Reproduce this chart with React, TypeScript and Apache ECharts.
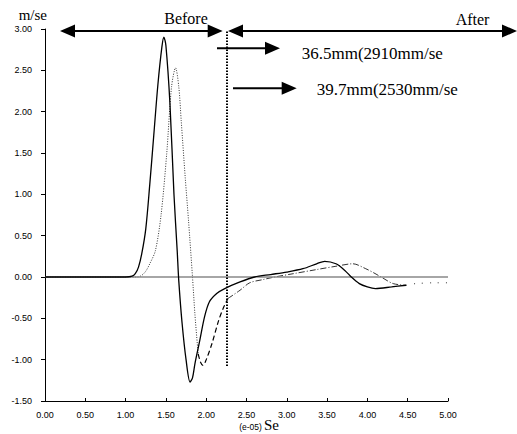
import React, { useEffect, useRef } from "react";
import * as echarts from "echarts";

// Solid curve (36.5mm)
const solidX = [0, 0.5, 1.0, 1.08, 1.12, 1.16, 1.2, 1.25, 1.3, 1.35, 1.4, 1.45, 1.475, 1.5, 1.55, 1.6, 1.64, 1.66, 1.7, 1.75, 1.8, 1.83, 1.86, 1.92, 1.98, 2.04, 2.13, 2.23, 2.42, 2.6, 2.8, 3.0, 3.2, 3.37, 3.47, 3.61, 3.72, 3.8, 3.9, 4.0, 4.1, 4.3, 4.48];
const solidY = [0, 0, 0, 0.01, 0.04, 0.12, 0.28, 0.58, 1.12, 1.72, 2.32, 2.78, 2.9, 2.8, 2.1, 1.0, 0.32, -0.05, -0.55, -1.0, -1.27, -1.22, -1.05, -0.77, -0.48, -0.3, -0.2, -0.14, -0.06, 0.0, 0.03, 0.06, 0.1, 0.16, 0.19, 0.16, 0.08, 0.0, -0.08, -0.12, -0.14, -0.12, -0.1];

// Second curve (39.7mm), drawn in four line styles
const dotX = [0, 0.5, 1.0, 1.15, 1.2, 1.25, 1.3, 1.37, 1.44, 1.51, 1.57, 1.62, 1.66, 1.69, 1.74, 1.78, 1.83, 1.86, 1.9];
const dotY = [0, 0, 0, 0, 0.02, 0.07, 0.16, 0.32, 0.75, 1.49, 2.3, 2.53, 2.3, 1.89, 1.2, 0.69, 0.0, -0.45, -0.93];
const dashX = [1.9, 1.93, 1.96, 2.0, 2.07, 2.15, 2.21, 2.27];
const dashY = [-0.93, -1.03, -1.07, -1.0, -0.81, -0.54, -0.38, -0.26];
const dashDotX = [2.27, 2.42, 2.54, 2.71, 2.85, 3.08, 3.37, 3.61, 3.82, 3.98, 4.08, 4.17, 4.32, 4.48];
const dashDotY = [-0.26, -0.16, -0.07, -0.03, 0.0, 0.04, 0.09, 0.13, 0.16, 0.1, 0.05, 0.0, -0.08, -0.1];
const sparseX = [4.48, 4.6, 4.85, 5.1];
const sparseY = [-0.1, -0.08, -0.07, -0.07];

const boundaryX = 2.25;
const boundaryTop = 2.97;
const boundaryBottom = -1.08;

const topLabels = ["Before", "After"];
const noteLabels = ["36.5mm(2910mm/se", "39.7mm(2530mm/se"];
const yUnit = "m/se";
const xUnit = "Se";
const xExp = "(e-05)";

const zip = (xs: number[], ys: number[]) => xs.map((x, i) => [x, ys[i]]);

const SERIF = "'Liberation Serif', 'Times New Roman', serif";
const SANS = "'Liberation Sans', Arial, sans-serif";

function head(tipX: number, y: number, dir: number) {
  return {
    type: "polygon",
    shape: { points: [[tipX, y], [tipX - dir * 15, y - 6.5], [tipX - dir * 15, y + 6.5]] },
    style: { fill: "#000" },
    silent: true,
  };
}
function seg(x1: number, x2: number, y: number) {
  return { type: "line", shape: { x1, y1: y, x2, y2: y }, style: { stroke: "#000", lineWidth: 2 }, silent: true };
}
function txt(text: string, x: number, y: number, font: string, align: string) {
  return {
    type: "text",
    x,
    y,
    silent: true,
    style: { text, font, fill: "#000", textAlign: align, textVerticalAlign: "middle", align, verticalAlign: "middle" },
  };
}

export default function App() {
  const ref = useRef<HTMLDivElement>(null);
  useEffect(() => {
    if (!ref.current) return;
    const chart = echarts.init(ref.current, undefined, { renderer: "svg" });
    const fmt = (v: number) => v.toFixed(2);
    chart.setOption({
      animation: false,
      backgroundColor: "#fff",
      grid: { left: 45, right: 69, top: 29, bottom: 33, containLabel: false },
      xAxis: {
        type: "value",
        min: 0,
        max: 5,
        interval: 0.5,
        axisLine: { onZero: false, lineStyle: { color: "#000", width: 1 } },
        axisTick: { inside: true, length: 3, lineStyle: { color: "#000" } },
        axisLabel: { formatter: fmt, fontFamily: SANS, fontSize: 9, color: "#000", margin: 9 },
        splitLine: { show: false },
      },
      yAxis: {
        type: "value",
        min: -1.5,
        max: 3,
        interval: 0.5,
        axisLine: { show: true, onZero: false, lineStyle: { color: "#000", width: 1 } },
        axisTick: { show: true, inside: false, length: 4, lineStyle: { color: "#000" } },
        axisLabel: { formatter: fmt, fontFamily: SANS, fontSize: 9, color: "#000", margin: 13 },
        splitLine: { show: false },
      },
      series: [
        {
          type: "line",
          data: zip(solidX, solidY),
          smooth: 0.3,
          showSymbol: false,
          lineStyle: { color: "#000", width: 1.3 },
          z: 5,
          markLine: {
            silent: true,
            symbol: "none",
            label: { show: false },
            data: [
              { yAxis: 0, lineStyle: { color: "#888", width: 1.5, type: "solid" } },
              [
                { coord: [boundaryX, boundaryTop], lineStyle: { color: "#000", width: 2, type: [1.5, 1.5] } },
                { coord: [boundaryX, boundaryBottom] },
              ],
            ],
          },
        },
        {
          type: "line",
          data: zip(dotX, dotY),
          smooth: 0.3,
          showSymbol: false,
          lineStyle: { color: "#333", width: 1, type: [1, 1.5] },
        },
        {
          type: "line",
          data: zip(dashX, dashY),
          smooth: 0.3,
          showSymbol: false,
          lineStyle: { color: "#000", width: 1.2, type: [5, 3] },
        },
        {
          type: "line",
          data: zip(dashDotX, dashDotY),
          smooth: 0.3,
          showSymbol: false,
          lineStyle: { color: "#333", width: 1, type: [6, 2, 1, 2] },
        },
        {
          type: "line",
          data: zip(sparseX, sparseY),
          smooth: 0.3,
          showSymbol: false,
          clip: false,
          lineStyle: { color: "#333", width: 1, type: [1, 7] },
        },
      ],
      graphic: [
        seg(70, 212, 31),
        head(60, 31, -1),
        head(222.7, 31, 1),
        seg(238, 507, 31),
        head(228, 31, -1),
        head(517, 31, 1),
        seg(217, 270, 48.3),
        head(280, 48.3, 1),
        seg(233, 287, 88.3),
        head(296.7, 88.3, 1),
        txt(topLabels[0], 186, 18, `16px ${SERIF}`, "center"),
        txt(topLabels[1], 472.5, 19.5, `16px ${SERIF}`, "center"),
        txt(noteLabels[0], 301.7, 53, `17px ${SERIF}`, "left"),
        txt(noteLabels[1], 316.7, 89, `17px ${SERIF}`, "left"),
        txt(yUnit, 47, 15, `15px ${SERIF}`, "right"),
        txt(xExp, 250.5, 427, `8.5px ${SANS}`, "center"),
        txt(xUnit, 264, 425, `15px ${SERIF}`, "left"),
      ],
    });
    return () => chart.dispose();
  }, []);
  return <div ref={ref} style={{ position: "fixed", left: 0, top: 0, width: 517, height: 434 }} />;
}
